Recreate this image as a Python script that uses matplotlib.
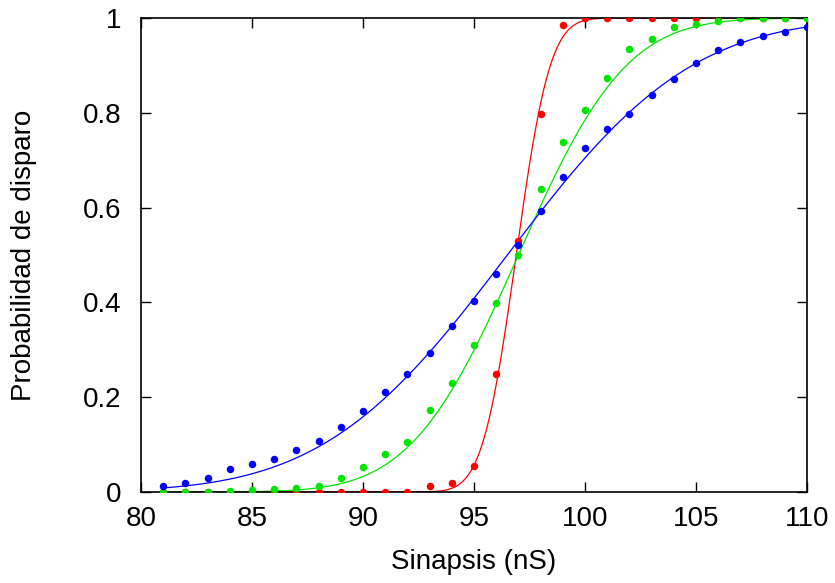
"""Probabilidad de disparo vs. conductancia sináptica, con ajustes sigmoides."""

import math

import numpy as np
import matplotlib
matplotlib.use("Agg")
import matplotlib.pyplot as plt

plt.rcParams["font.family"] = ["Liberation Sans", "DejaVu Sans"]

# ---------------------------------------------------------------------------
# Data
# ---------------------------------------------------------------------------
sinapsis = list(range(81, 111))

prob_red = [0, 0, 0, 0, 0, 0, 0, 0, 0, 0,
            0, 0, 0.012, 0.020, 0.054, 0.248, 0.530, 0.797, 0.985, 1.0,
            1.0, 1.0, 1.0, 1.0, 1.0, 1.0, 1.0, 1.0, 1.0, 1.0]

prob_green = [0, 0, 0, 0.003, 0.005, 0.006, 0.008, 0.013, 0.030, 0.053,
              0.080, 0.106, 0.172, 0.231, 0.310, 0.399, 0.500, 0.639, 0.739, 0.805,
              0.873, 0.935, 0.955, 0.980, 0.987, 0.994, 1.0, 1.0, 1.0, 1.0]

prob_blue = [0.013, 0.020, 0.030, 0.049, 0.060, 0.070, 0.089, 0.107, 0.137, 0.170,
             0.212, 0.248, 0.293, 0.351, 0.404, 0.459, 0.521, 0.592, 0.665, 0.726,
             0.766, 0.797, 0.838, 0.871, 0.906, 0.933, 0.949, 0.963, 0.971, 0.982]

# fitted curves: normal CDF (mu, sigma)
fit_red = (96.9, 1.2)
fit_green = (97.0, 3.8)
fit_blue = (96.5, 6.5)

x_ticks = [80, 85, 90, 95, 100, 105, 110]
y_ticks = [0, 0.2, 0.4, 0.6, 0.8, 1]
y_tick_labels = ["0", "0.2", "0.4", "0.6", "0.8", "1"]

RED = "#ff0000"
GREEN = "#00e600"
BLUE = "#0000ff"


def cdf(x, mu, sigma):
    return np.array([0.5 * (1 + math.erf((v - mu) / (sigma * math.sqrt(2))))
                     for v in x])


fig = plt.figure(figsize=(8.35, 5.83), dpi=100)
ax = fig.add_axes([0.1689, 0.1561, 0.7976, 0.813])

xs = np.linspace(81, 110, 600)
for vals, fit, color in [(prob_red, fit_red, RED),
                         (prob_green, fit_green, GREEN),
                         (prob_blue, fit_blue, BLUE)]:
    ax.plot(xs, cdf(xs, *fit), color=color, linewidth=0.9, zorder=2)
    ax.plot(sinapsis, vals, "o", color=color, markersize=5.4,
            markeredgewidth=0, zorder=3)

ax.set_xlim(80, 110)
ax.set_ylim(0, 1)
ax.set_xticks(x_ticks)
ax.set_yticks(y_ticks)
ax.set_yticklabels(y_tick_labels)
ax.tick_params(direction="in", length=7, width=1.0, labelsize=20,
               top=True, right=True)
ax.tick_params(axis="x", pad=10)
ax.tick_params(axis="y", pad=14)
for s in ax.spines.values():
    s.set_linewidth(1.2)

ax.set_xlabel("Sinapsis (nS)", fontsize=20, va="center")
ax.set_ylabel("Probabilidad de disparo", fontsize=20, va="center")
ax.xaxis.set_label_coords(0.5, -0.148)
ax.yaxis.set_label_coords(-0.176, 0.5)

fig.savefig("out.png", dpi=100)
